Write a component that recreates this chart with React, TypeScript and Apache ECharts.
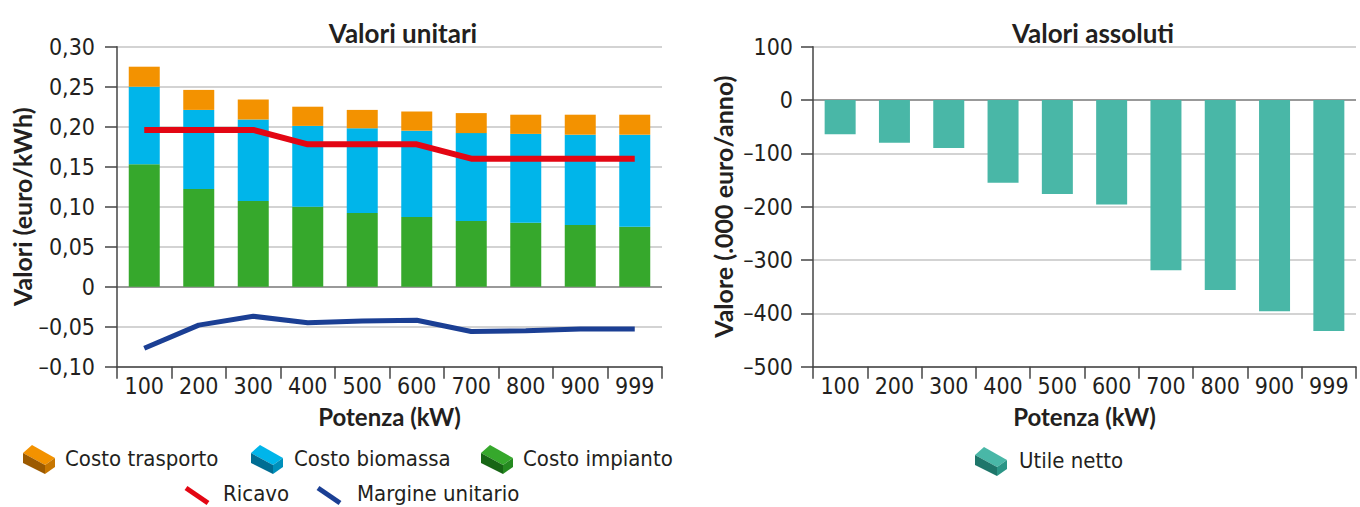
import React, { useEffect, useRef } from "react";
import * as echarts from "echarts";

const categories = ["100", "200", "300", "400", "500", "600", "700", "800", "900", "999"];
const costoImpianto = [0.153, 0.122, 0.107, 0.1, 0.092, 0.087, 0.082, 0.08, 0.077, 0.075];
const costoBiomassa = [0.097, 0.099, 0.102, 0.101, 0.106, 0.108, 0.11, 0.111, 0.113, 0.115];
const costoTrasporto = [0.025, 0.025, 0.025, 0.024, 0.023, 0.024, 0.025, 0.024, 0.025, 0.025];
const ricavo = [0.196, 0.196, 0.196, 0.178, 0.178, 0.178, 0.16, 0.16, 0.16, 0.16];
const margineUnitario = [-0.077, -0.048, -0.037, -0.045, -0.043, -0.042, -0.056, -0.055, -0.053, -0.053];
const utileNetto = [-64, -80, -90, -155, -176, -196, -319, -356, -396, -433];

const leftTicks = { min: -0.1, max: 0.3, interval: 0.05 };
const rightTicks = { min: -500, max: 100, interval: 100 };

const FONT = "'Liberation Sans Narrow', 'DejaVu Sans Condensed', Lato, sans-serif";
const BOLD = "Lato, 'Open Sans', sans-serif";
const TXT = "#231f20";

const COLORS = {
  trasporto: ["#f39200", "#9c5a00", "#c77600"],
  biomassa: ["#00b5ea", "#006d93", "#0090bb"],
  impianto: ["#36a82c", "#176615", "#258a20"],
  utile: ["#49b7a7", "#1e766a", "#2b9586"],
  ricavo: "#e30613",
  margine: "#1b3f94",
};

function box(x: number, y: number, c: string[]) {
  return {
    type: "group",
    x,
    y,
    children: [
      { type: "polygon", shape: { points: [[0, 8], [9, 0], [32, 13], [22, 20]] }, style: { fill: c[0] } },
      { type: "polygon", shape: { points: [[0, 8], [22, 20], [22, 29], [0, 18]] }, style: { fill: c[1] } },
      { type: "polygon", shape: { points: [[22, 20], [32, 13], [32, 22], [22, 29]] }, style: { fill: c[2] } },
    ],
  };
}

function legendText(x: number, y: number, text: string) {
  return {
    type: "text",
    x,
    y,
    style: { text, fill: TXT, font: `22px ${FONT}`, textVerticalAlign: "middle" },
  };
}

function slash(x: number, y: number, color: string) {
  return {
    type: "line",
    shape: { x1: x, y1: y, x2: x + 22, y2: y + 15 },
    style: { stroke: color, lineWidth: 5 },
  };
}

const leftFmt = (v: number) =>
  Math.abs(v) < 1e-9 ? "0" : (v < 0 ? "–" : "") + Math.abs(v).toFixed(2).replace(".", ",");
const rightFmt = (v: number) => (v === 0 ? "0" : (v < 0 ? "–" : "") + Math.abs(v));

export default function App() {
  const ref = useRef<HTMLDivElement>(null);
  useEffect(() => {
    if (!ref.current) return;
    const chart = echarts.init(ref.current, null, { renderer: "svg" });
    const gridColor = "#c4c4c4";
    const axisLabel = { color: TXT, fontSize: 23, fontFamily: FONT };
    const nameStyle = { color: TXT, fontSize: 25, fontWeight: "bold", fontFamily: BOLD };
    const xAxisCommon = {
      type: "category",
      data: categories,
      axisLine: { onZero: false, lineStyle: { color: "#444", width: 1.5 } },
      axisTick: { show: true, length: 12, interval: 0, lineStyle: { color: "#444", width: 1.5 } },
      axisLabel: { ...axisLabel, margin: 8, interval: 0 },
      name: "Potenza (kW)",
      nameLocation: "middle",
      nameGap: 38,
      nameTextStyle: { ...nameStyle, fontSize: 24 },
    };
    const option: any = {
      animation: false,
      backgroundColor: "#ffffff",
      title: [
        {
          text: "Valori unitari",
          left: 398,
          top: 15,
          textAlign: "center",
          textStyle: { color: TXT, fontSize: 26, fontWeight: "bold", fontFamily: BOLD },
        },
        {
          text: "Valori assoluti",
          left: 1088,
          top: 15,
          textAlign: "center",
          textStyle: { color: TXT, fontSize: 26, fontWeight: "bold", fontFamily: BOLD },
        },
      ],
      grid: [
        { left: 117, top: 46.7, width: 545, height: 320, containLabel: false },
        { left: 813, top: 46.7, width: 543, height: 320, containLabel: false },
      ],
      xAxis: [
        { ...xAxisCommon, gridIndex: 0 },
        { ...xAxisCommon, gridIndex: 1 },
      ],
      yAxis: [
        {
          type: "value",
          gridIndex: 0,
          ...leftTicks,
          axisLine: { show: true, lineStyle: { color: "#444", width: 1.5 } },
          axisTick: { show: true, length: 12, lineStyle: { color: "#444", width: 1.5 } },
          axisLabel: { ...axisLabel, margin: 22, formatter: leftFmt },
          splitLine: {
            lineStyle: {
              color: [gridColor, gridColor, "#777", gridColor, gridColor, gridColor, gridColor, gridColor, gridColor],
              width: 1.5,
            },
          },
          name: "Valori (euro/kWh)",
          nameLocation: "middle",
          nameGap: 79,
          nameTextStyle: nameStyle,
        },
        {
          type: "value",
          gridIndex: 1,
          ...rightTicks,
          axisLine: { show: true, lineStyle: { color: "#444", width: 1.5 } },
          axisTick: { show: true, length: 12, lineStyle: { color: "#444", width: 1.5 } },
          axisLabel: { ...axisLabel, margin: 20, formatter: rightFmt },
          splitLine: {
            lineStyle: {
              color: [gridColor, gridColor, gridColor, gridColor, gridColor, "#777", gridColor],
              width: 1.5,
            },
          },
          name: "Valore (.000 euro/anno)",
          nameLocation: "middle",
          nameGap: 78,
          nameTextStyle: nameStyle,
        },
      ],
      series: [
        {
          name: "Costo impianto",
          type: "bar",
          stack: "costi",
          xAxisIndex: 0,
          yAxisIndex: 0,
          barWidth: 31,
          data: costoImpianto,
          itemStyle: { color: COLORS.impianto[0] },
        },
        {
          name: "Costo biomassa",
          type: "bar",
          stack: "costi",
          xAxisIndex: 0,
          yAxisIndex: 0,
          barWidth: 31,
          data: costoBiomassa,
          itemStyle: { color: COLORS.biomassa[0] },
        },
        {
          name: "Costo trasporto",
          type: "bar",
          stack: "costi",
          xAxisIndex: 0,
          yAxisIndex: 0,
          barWidth: 31,
          data: costoTrasporto,
          itemStyle: { color: COLORS.trasporto[0] },
        },
        {
          name: "Ricavo",
          type: "line",
          xAxisIndex: 0,
          yAxisIndex: 0,
          data: ricavo,
          showSymbol: false,
          symbol: "none",
          lineStyle: { color: COLORS.ricavo, width: 6 },
          z: 5,
        },
        {
          name: "Margine unitario",
          type: "line",
          xAxisIndex: 0,
          yAxisIndex: 0,
          data: margineUnitario,
          showSymbol: false,
          symbol: "none",
          lineStyle: { color: COLORS.margine, width: 5 },
          z: 5,
        },
        {
          name: "Utile netto",
          type: "bar",
          xAxisIndex: 1,
          yAxisIndex: 1,
          barWidth: 31,
          data: utileNetto,
          itemStyle: { color: COLORS.utile[0] },
        },
      ],
      graphic: [
        box(23, 445, COLORS.trasporto),
        legendText(65, 458, "Costo trasporto"),
        box(251, 445, COLORS.biomassa),
        legendText(294, 458, "Costo biomassa"),
        box(481, 445, COLORS.impianto),
        legendText(523, 458, "Costo impianto"),
        slash(186, 488, COLORS.ricavo),
        legendText(223, 493, "Ricavo"),
        slash(318, 488, COLORS.margine),
        legendText(357, 493, "Margine unitario"),
        box(975, 447, COLORS.utile),
        legendText(1019, 460, "Utile netto"),
      ],
    };
    chart.setOption(option);
    return () => chart.dispose();
  }, []);
  return (
    <div
      ref={ref}
      style={{ position: "fixed", left: 0, top: 0, width: 1360, height: 507, background: "#fff" }}
    />
  );
}
